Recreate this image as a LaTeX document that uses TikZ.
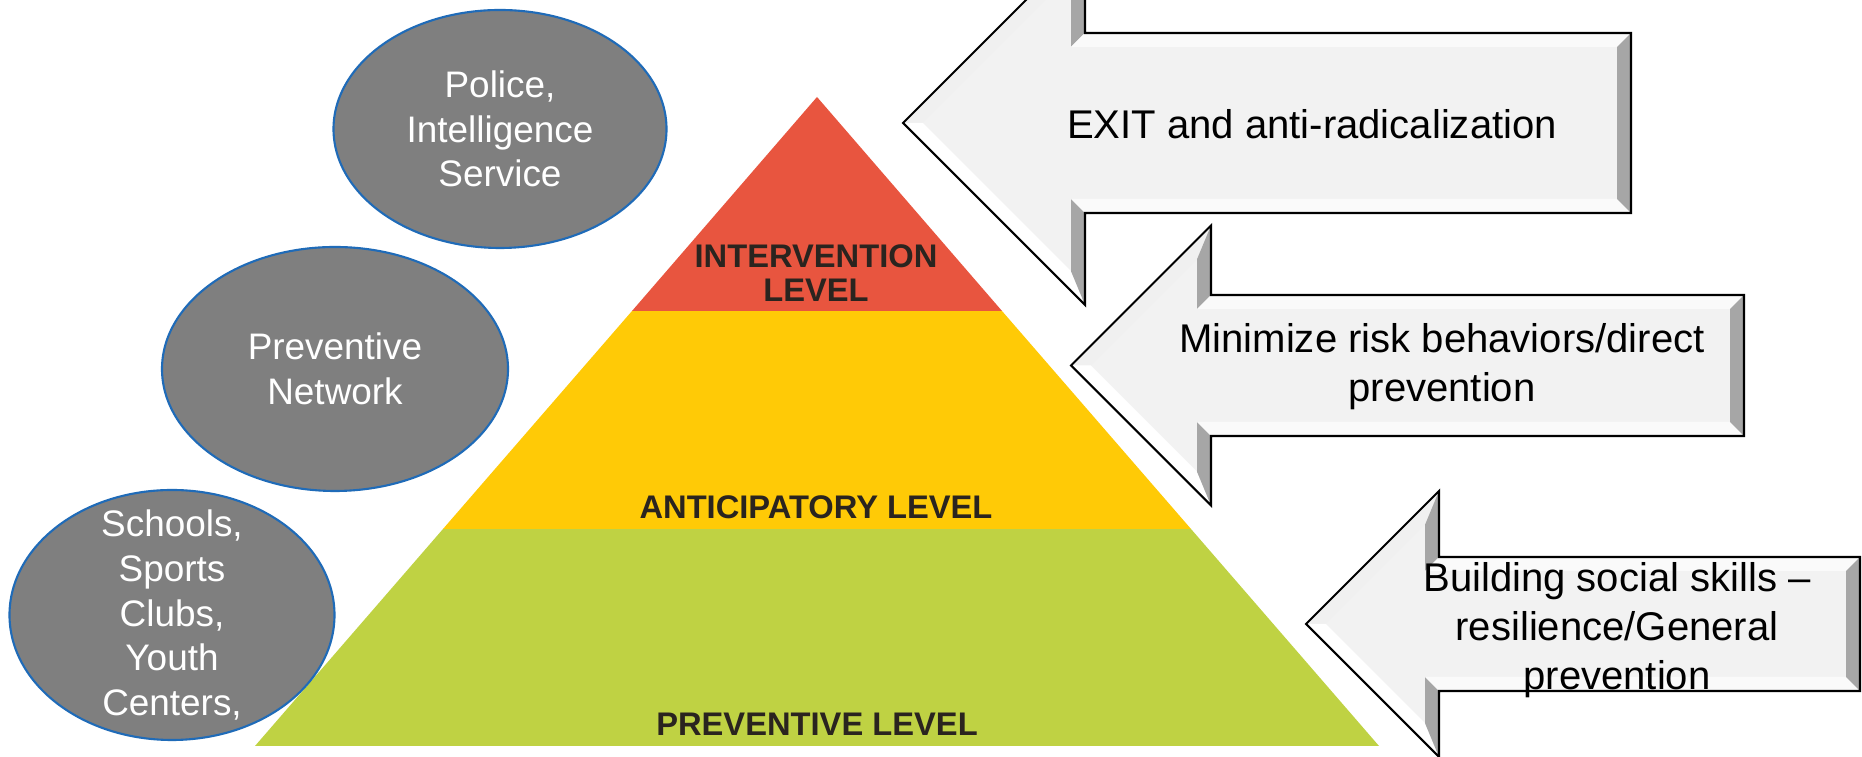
\documentclass[tikz,border=0pt]{standalone}
\usepackage{fontspec}
\setmainfont{Liberation Sans}
\usepackage{tikz}
\usetikzlibrary{shapes.geometric}

\definecolor{toplevel}{HTML}{E8553F}
\definecolor{midlevel}{HTML}{FFCA06}
\definecolor{baselevel}{HTML}{BFD243}
\definecolor{bubblefill}{HTML}{7F7F7F}
\definecolor{bubbleline}{HTML}{1F6BB8}
\definecolor{arrowface}{HTML}{F2F2F2}
\definecolor{arrowshade}{HTML}{A6A6A6}
\definecolor{labeltext}{HTML}{2A241F}

\tikzset{
  bubble/.style={ellipse, fill=bubblefill, draw=bubbleline, line width=0.6pt, inner sep=0pt},
  bubbletext/.style={text=white, align=center, font=\fontsize{10.5}{12.7}\selectfont},
  arrowtext/.style={align=center, font=\fontsize{11.4}{14}\selectfont},
  leveltext/.style={text=labeltext, align=center, font=\bfseries\fontsize{9.3}{9.9}\selectfont},
}

% tip, head half height, shaft half height, length
\newcommand{\levelarrow}[4]{%
  \begin{scope}[shift={#1}]
    \pgfmathsetmacro\arrH{#2}
    \pgfmathsetmacro\arrS{#3}
    \pgfmathsetmacro\arrL{#4}
    \pgfmathsetmacro\arrB{0.14}
    \pgfmathsetmacro\arrD{0.14*1.4142}
    \pgfmathsetmacro\arrI{\arrH-\arrB-\arrD}
    \fill[arrowface] (0,0) -- (\arrH,\arrH) -- (\arrH,\arrS) -- (\arrL,\arrS) -- (\arrL,-\arrS)
      -- (\arrH,-\arrS) -- (\arrH,-\arrH) -- cycle;
    \fill[black!6] (0,0) -- (\arrH,\arrH) -- ({\arrH-\arrB},\arrI) -- (\arrD,0) -- cycle;
    \fill[white] (0,0) -- (\arrH,-\arrH) -- ({\arrH-\arrB},-\arrI) -- (\arrD,0) -- cycle;
    \fill[arrowshade] (\arrH,\arrH) -- (\arrH,\arrS) -- ({\arrH-\arrB},{\arrS-\arrB}) -- ({\arrH-\arrB},\arrI) -- cycle;
    \fill[arrowshade] (\arrH,-\arrH) -- (\arrH,-\arrS) -- ({\arrH-\arrB},{-\arrS+\arrB}) -- ({\arrH-\arrB},-\arrI) -- cycle;
    \fill[white!98!black] (\arrH,\arrS) -- (\arrL,\arrS) -- ({\arrL-\arrB},{\arrS-\arrB}) -- ({\arrH-\arrB},{\arrS-\arrB}) -- cycle;
    \fill[white!98!black] (\arrH,-\arrS) -- (\arrL,-\arrS) -- ({\arrL-\arrB},{-\arrS+\arrB}) -- ({\arrH-\arrB},{-\arrS+\arrB}) -- cycle;
    \fill[arrowshade] (\arrL,\arrS) -- (\arrL,-\arrS) -- ({\arrL-\arrB},{-\arrS+\arrB}) -- ({\arrL-\arrB},{\arrS-\arrB}) -- cycle;
    \draw[line width=0.6pt] (0,0) -- (\arrH,\arrH) -- (\arrH,\arrS) -- (\arrL,\arrS) -- (\arrL,-\arrS)
      -- (\arrH,-\arrS) -- (\arrH,-\arrH) -- cycle;
  \end{scope}}

\begin{document}
\begin{tikzpicture}
  \clip (0,0) rectangle (18.62,7.57);
  \fill[white] (0,0) rectangle (18.62,7.57);

  % pyramid
  \fill[baselevel] (2.55,0.11) -- (13.79,0.11) -- (11.91,2.28) -- (4.43,2.28) -- cycle;
  \fill[midlevel] (4.43,2.28) -- (11.91,2.28) -- (10.02,4.46) -- (6.32,4.46) -- cycle;
  \fill[toplevel] (6.32,4.46) -- (10.02,4.46) -- (8.17,6.60) -- cycle;
  \node[leveltext] (intervention) at (8.16,4.84) {INTERVENTION\\LEVEL};
  \node[leveltext] (anticipatory) at (8.16,2.50) {ANTICIPATORY LEVEL};
  \node[leveltext] (preventive) at (8.17,0.33) {PREVENTIVE LEVEL};

  % actors
  \node[bubble, minimum width=3.33cm, minimum height=2.38cm] (police) at (5.00,6.28) {};
  \node[bubbletext] (policetext) at (police) {Police,\\Intelligence\\Service};
  \node[bubble, minimum width=3.46cm, minimum height=2.44cm] (network) at (3.35,3.88) {};
  \node[bubbletext] (networktext) at (network) {Preventive\\Network};
  \node[bubble, minimum width=3.25cm, minimum height=2.50cm] (schools) at (1.72,1.42) {};
  \node[bubbletext] (schoolstext) at (schools) {Schools,\\Sports\\Clubs,\\Youth\\Centers,};

  % measures
  \levelarrow{(9.03,6.34)}{1.82}{0.90}{7.28}
  \node[arrowtext] (exit) at (13.12,6.33) {EXIT and anti-radicalization};
  \levelarrow{(10.71,3.915)}{1.40}{0.705}{6.73}
  \node[arrowtext] (risk) at (14.42,3.90) {Minimize risk behaviors/direct\\prevention};
  \levelarrow{(13.06,1.33)}{1.33}{0.67}{5.54}
  \node[arrowtext] (skills) at (16.17,1.27) {Building social skills --\\resilience/General\\prevention};
\end{tikzpicture}
\end{document}
